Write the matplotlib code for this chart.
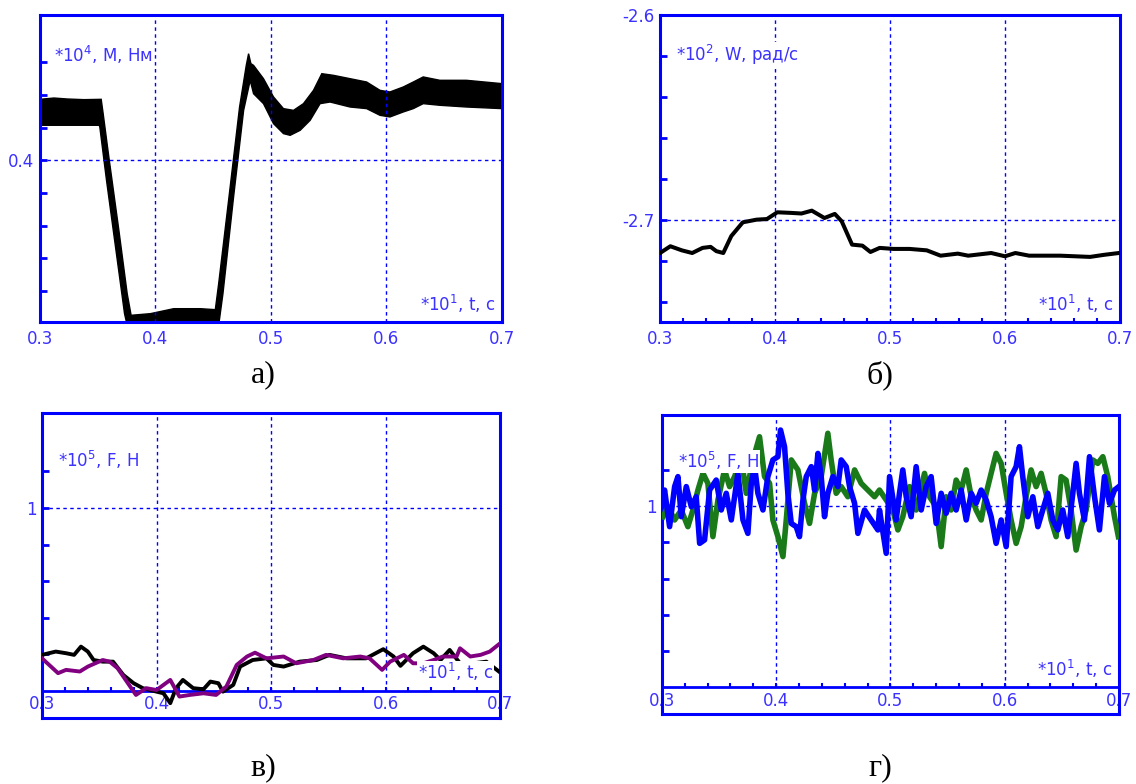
import matplotlib
matplotlib.use('Agg')
import matplotlib.pyplot as plt
import numpy as np

plt.rcParams['axes.unicode_minus'] = False

BLUE = '#0000ff'
TXT = '#3c32ff'

# --- а) torque envelope, *10^4 Nm
m_up_t = [0.3000, 0.3121, 0.3236, 0.3380, 0.3530, 0.3547, 0.3596, 0.3683, 0.3755, 0.3789,
          0.3956, 0.4158, 0.4388, 0.4518, 0.4547, 0.4633, 0.4728, 0.4786, 0.4806, 0.4826,
          0.4849, 0.4935, 0.5022, 0.5108, 0.5195, 0.5281, 0.5368, 0.5440, 0.5540, 0.5684,
          0.5828, 0.5944, 0.6030, 0.6145, 0.6232, 0.6318, 0.6462, 0.6692, 0.7000]
m_up = [0.4747, 0.4763, 0.4751, 0.4743, 0.4747, 0.4571, 0.4041, 0.3143, 0.2367, 0.2102,
        0.2122, 0.2183, 0.2183, 0.2171, 0.2489, 0.3510, 0.4653, 0.5163, 0.5306, 0.5184,
        0.5163, 0.5000, 0.4776, 0.4633, 0.4612, 0.4694, 0.4857, 0.5061, 0.5041, 0.5000,
        0.4959, 0.4857, 0.4837, 0.4898, 0.4959, 0.5021, 0.4980, 0.4980, 0.4939]
m_lo_t = [0.3000, 0.3236, 0.3513, 0.3518, 0.3576, 0.3654, 0.3732, 0.3755, 0.4547, 0.4584,
          0.4676, 0.4763, 0.4820, 0.4849, 0.4935, 0.5022, 0.5108, 0.5166, 0.5252, 0.5339,
          0.5425, 0.5512, 0.5684, 0.5828, 0.5944, 0.6030, 0.6145, 0.6232, 0.6318, 0.6462,
          0.6692, 0.7000]
m_lo = [0.4429, 0.4429, 0.4429, 0.4408, 0.3755, 0.2939, 0.2122, 0.1979, 0.1979, 0.2367,
        0.3551, 0.4612, 0.4980, 0.4816, 0.4694, 0.4449, 0.4327, 0.4306, 0.4367, 0.4490,
        0.4694, 0.4714, 0.4653, 0.4633, 0.4551, 0.4531, 0.4592, 0.4633, 0.4694, 0.4674,
        0.4653, 0.4633]

# --- б) angular speed, *10^2 rad/s
w_t = [0.300, 0.309, 0.319, 0.328, 0.337, 0.344, 0.349, 0.355, 0.362, 0.372, 0.384, 0.393,
       0.402, 0.414, 0.423, 0.432, 0.443, 0.452, 0.458, 0.467, 0.476, 0.483, 0.491, 0.503,
       0.517, 0.532, 0.544, 0.559, 0.568, 0.588, 0.600, 0.609, 0.621, 0.648, 0.674, 0.686, 0.699]
w = [-2.7163, -2.7130, -2.7150, -2.7163, -2.7138, -2.7133, -2.7154, -2.7163, -2.7080, -2.7013,
     -2.7000, -2.6997, -2.6964, -2.6967, -2.6970, -2.6956, -2.6992, -2.6972, -2.7008, -2.7122,
     -2.7127, -2.7158, -2.7138, -2.7143, -2.7143, -2.7150, -2.7176, -2.7166, -2.7176, -2.7163,
     -2.7179, -2.7163, -2.7176, -2.7176, -2.7182, -2.7172, -2.7163]

# --- в) force, *10^5 N
f1_t = [0.300, 0.312, 0.321, 0.328, 0.334, 0.340, 0.345, 0.353, 0.362, 0.371, 0.380, 0.388,
        0.400, 0.406, 0.412, 0.417, 0.423, 0.432, 0.441, 0.447, 0.454, 0.458, 0.467, 0.473,
        0.484, 0.496, 0.502, 0.511, 0.525, 0.540, 0.551, 0.566, 0.583, 0.598, 0.607, 0.613,
        0.624, 0.633, 0.642, 0.648, 0.656, 0.665, 0.677, 0.688, 0.699]
f1 = [0.197, 0.215, 0.206, 0.197, 0.242, 0.215, 0.169, 0.160, 0.160, 0.087, 0.042, 0.015,
      -0.004, -0.013, -0.067, 0.015, 0.060, 0.015, 0.009, 0.051, 0.042, -0.004, 0.033, 0.133,
      0.169, 0.178, 0.142, 0.133, 0.160, 0.169, 0.197, 0.178, 0.178, 0.228, 0.188, 0.137,
      0.206, 0.242, 0.206, 0.169, 0.224, 0.151, 0.151, 0.160, 0.106]
f2_t = [0.300, 0.314, 0.321, 0.333, 0.340, 0.353, 0.359, 0.366, 0.374, 0.382, 0.391, 0.400,
        0.412, 0.420, 0.429, 0.441, 0.452, 0.461, 0.470, 0.479, 0.486, 0.496, 0.511, 0.522,
        0.537, 0.548, 0.563, 0.578, 0.586, 0.597, 0.604, 0.616, 0.624, 0.633, 0.642, 0.650,
        0.662, 0.665, 0.674, 0.683, 0.691, 0.700]
f2 = [0.178, 0.097, 0.115, 0.106, 0.133, 0.169, 0.160, 0.124, 0.051, -0.022, 0.015, 0.005,
      0.060, -0.031, -0.022, -0.013, -0.022, 0.024, 0.142, 0.188, 0.209, 0.178, 0.188, 0.151,
      0.169, 0.197, 0.178, 0.188, 0.178, 0.115, 0.160, 0.197, 0.151, 0.151, 0.169, 0.188,
      0.188, 0.233, 0.188, 0.197, 0.215, 0.260]

# --- г) force, *10^5 N
g_t = [0.3009, 0.3052, 0.3111, 0.3169, 0.3227, 0.3271, 0.3315, 0.3359, 0.3402, 0.3446,
       0.3490, 0.3548, 0.3592, 0.3636, 0.3694, 0.3738, 0.3796, 0.3854, 0.3898, 0.3942,
       0.3971, 0.4015, 0.4059, 0.4088, 0.4132, 0.4190, 0.4248, 0.4292, 0.4336, 0.4394,
       0.4452, 0.4481, 0.4525, 0.4569, 0.4627, 0.4686, 0.4744, 0.4802, 0.4861, 0.4904,
       0.4963, 0.5021, 0.5065, 0.5108, 0.5167, 0.5225, 0.5298, 0.5342, 0.5400, 0.5444,
       0.5488, 0.5531, 0.5575, 0.5619, 0.5663, 0.5707, 0.5750, 0.5794, 0.5838, 0.5881,
       0.5925, 0.5969, 0.6013, 0.6056, 0.6100, 0.6144, 0.6187, 0.6231, 0.6275, 0.6319,
       0.6362, 0.6406, 0.6450, 0.6494, 0.6537, 0.6581, 0.6625, 0.6669, 0.6713, 0.6771,
       0.6815, 0.6859, 0.6902, 0.6961, 0.6995]
g = [0.941, 0.996, 0.923, 0.978, 0.886, 0.978, 1.088, 1.180, 1.125, 0.831,
     1.033, 1.199, 1.107, 1.162, 1.263, 1.070, 1.254, 1.382, 1.162, 1.125,
     0.923, 0.831, 0.721, 0.923, 1.254, 1.199, 1.015, 0.904, 1.070, 1.162,
     1.401, 1.254, 1.070, 1.107, 1.051, 1.199, 1.125, 1.088, 1.051, 1.088,
     1.033, 0.978, 0.868, 0.941, 1.107, 0.978, 1.180, 1.051, 0.996, 0.776,
     1.051, 0.978, 1.143, 1.088, 1.199, 1.051, 0.978, 0.923, 1.070, 1.180,
     1.290, 1.235, 1.070, 0.923, 0.794, 0.886, 1.051, 1.199, 1.107, 1.180,
     1.070, 0.923, 0.831, 1.162, 1.143, 0.978, 0.757, 0.886, 0.978, 1.254,
     1.235, 1.272, 1.162, 0.941, 0.831]
b_t = [0.3009, 0.3023, 0.3067, 0.3111, 0.3140, 0.3169, 0.3213, 0.3257, 0.3300, 0.3330,
       0.3373, 0.3417, 0.3475, 0.3519, 0.3563, 0.3607, 0.3665, 0.3709, 0.3752, 0.3782,
       0.3811, 0.3840, 0.3884, 0.3927, 0.3971, 0.4015, 0.4038, 0.4073, 0.4102, 0.4132,
       0.4175, 0.4204, 0.4234, 0.4263, 0.4307, 0.4336, 0.4365, 0.4394, 0.4423, 0.4452,
       0.4496, 0.4540, 0.4569, 0.4613, 0.4642, 0.4686, 0.4715, 0.4773, 0.4831, 0.4890,
       0.4904, 0.4963, 0.4992, 0.5050, 0.5079, 0.5108, 0.5138, 0.5181, 0.5225, 0.5269,
       0.5313, 0.5356, 0.5400, 0.5444, 0.5488, 0.5531, 0.5575, 0.5619, 0.5663, 0.5707,
       0.5750, 0.5794, 0.5838, 0.5881, 0.5925, 0.5969, 0.6013, 0.6056, 0.6100, 0.6129,
       0.6158, 0.6202, 0.6246, 0.6290, 0.6333, 0.6377, 0.6421, 0.6465, 0.6508, 0.6552,
       0.6596, 0.6625, 0.6654, 0.6698, 0.6742, 0.6786, 0.6829, 0.6873, 0.6917, 0.6961, 0.6999]
b = [1.051, 1.088, 0.886, 1.107, 1.162, 0.941, 1.107, 0.996, 1.051, 0.794,
     0.813, 1.088, 1.143, 0.978, 1.070, 0.923, 1.180, 0.923, 0.849, 1.125,
     1.217, 1.070, 0.978, 1.162, 1.254, 1.272, 1.419, 1.327, 1.070, 0.904,
     0.886, 0.831, 1.033, 1.162, 1.217, 1.088, 1.290, 1.162, 0.941, 1.070,
     1.162, 1.107, 1.254, 1.217, 1.107, 1.015, 0.849, 0.978, 0.923, 0.868,
     0.978, 0.739, 1.162, 0.923, 1.070, 1.199, 1.051, 0.941, 1.217, 0.978,
     1.107, 1.162, 0.904, 1.070, 0.960, 1.070, 0.978, 1.088, 0.923, 1.070,
     1.015, 1.088, 1.033, 0.941, 0.794, 0.923, 0.776, 1.162, 1.217, 1.327,
     1.162, 0.941, 1.051, 0.886, 0.978, 1.070, 0.923, 0.868, 0.978, 0.831,
     1.070, 1.235, 1.070, 0.923, 1.272, 1.051, 0.868, 1.162, 1.015, 1.088, 1.107]

x_ticks = [0.3, 0.4, 0.5, 0.6, 0.7]
x_grid = [0.4, 0.5, 0.6]

FS = 12

fig = plt.figure(figsize=(11.36, 7.84), dpi=100)
ax_a = fig.add_axes([0.0352, 0.5893, 0.4067, 0.3916])
ax_b = fig.add_axes([0.5810, 0.5893, 0.4049, 0.3916])
ax_c = fig.add_axes([0.0370, 0.0842, 0.4032, 0.3890])
ax_d = fig.add_axes([0.5827, 0.0893, 0.4023, 0.3814])

dash = (0, (2.5, 2.5))


def frame(ax):
    ax.set_xlim(0.3, 0.7)
    for s in ax.spines.values():
        s.set_color(BLUE)
        s.set_linewidth(2.2)
    ax.tick_params(axis='y', which='both', direction='in', length=5, width=2,
                   color=BLUE, labelcolor=TXT, labelsize=FS, pad=4)


def label(ax, x, y, s, ha='left'):
    ax.text(x, y, s, transform=ax.transAxes, ha=ha, va='center', color=TXT, fontsize=FS,
            zorder=6, bbox=dict(facecolor='white', edgecolor='none', pad=0.5))


# а)
frame(ax_a)
ax_a.set_ylim(0.202, 0.578)
ax_a.fill(np.r_[m_up_t, m_lo_t[::-1]], np.r_[m_up, m_lo[::-1]], color='black', lw=1)
ax_a.set_yticks([0.4])
ax_a.set_yticks([0.24, 0.28, 0.32, 0.36, 0.44, 0.48, 0.52], minor=True)
ax_a.set_xticks(x_ticks)
ax_a.tick_params(axis='x', length=0, labelcolor=TXT, labelsize=FS, pad=6)
for v in x_grid:
    ax_a.axvline(v, color=BLUE, lw=1, ls=dash, zorder=1)
ax_a.axhline(0.4, color=BLUE, lw=1, ls=dash, zorder=1)
label(ax_a, 0.03, 0.87, '*10$^4$, M, Нм')
label(ax_a, 0.985, 0.06, '*10$^1$, t, c', ha='right')

# б)
frame(ax_b)
ax_b.set_ylim(-2.75, -2.6)
ax_b.plot(w_t, w, color='black', lw=2.9, zorder=3)
ax_b.set_yticks([-2.7, -2.6])
ax_b.set_yticks(np.arange(-2.74, -2.61, 0.02), minor=True)
ax_b.set_xticks(x_ticks)
ax_b.set_xticks(np.arange(0.32, 0.69, 0.02), minor=True)
ax_b.tick_params(axis='x', which='major', length=0, labelcolor=TXT, labelsize=FS, pad=6)
ax_b.tick_params(axis='x', which='minor', direction='in', length=3, width=1.5, color=BLUE)
for v in x_grid:
    ax_b.axvline(v, color=BLUE, lw=1, ls=dash, zorder=1)
ax_b.axhline(-2.7, color=BLUE, lw=1, ls=dash, zorder=1)
label(ax_b, 0.035, 0.87, '*10$^2$, W, рад/с')
label(ax_b, 0.985, 0.06, '*10$^1$, t, c', ha='right')


def strip_panel(ax, ylo, yhi):
    frame(ax)
    ax.set_ylim(ylo, yhi)
    ax.set_xticks([])
    ax.set_yticks([1])
    ax.set_yticks([0.2, 0.4, 0.6, 0.8, 1.2], minor=True)
    ax.axhline(0, color=BLUE, lw=2, zorder=2.6)
    ax.axhline(1, color=BLUE, lw=1, ls=dash, zorder=1)
    ax.vlines(x_grid, 0, yhi, color=BLUE, lw=1, linestyles=dash, zorder=1)
    ax.plot(np.arange(0.32, 0.69, 0.02), np.zeros(19), ls='none', marker=2, ms=3,
            mew=1.5, color=BLUE, zorder=2.6)
    for v in x_ticks:
        ax.text(v, ylo / 2, f'{v:.1f}', ha='center', va='center', color=TXT,
                fontsize=FS, zorder=2)


# в)
strip_panel(ax_c, -0.148, 1.519)
ax_c.plot(f1_t, f1, color='black', lw=2.8, zorder=3)
ax_c.plot(f2_t, f2, color='#800080', lw=2.8, zorder=3.1)
label(ax_c, 0.035, 0.845, '*10$^5$, F, Н')
label(ax_c, 0.985, 0.15, '*10$^1$, t, c', ha='right')

# г)
strip_panel(ax_d, -0.147, 1.502)
ax_d.plot(g_t, g, color='#1a7a1a', lw=4, zorder=3)
ax_d.plot(b_t, b, color=BLUE, lw=4, zorder=3.1)
label(ax_d, 0.035, 0.845, '*10$^5$, F, Н')
label(ax_d, 0.985, 0.15, '*10$^1$, t, c', ha='right')

cap = dict(ha='center', va='center', fontsize=23, family='Liberation Serif')
fig.text(263 / 1136, 1 - 375 / 784, 'а)', **cap)
fig.text(880 / 1136, 1 - 375 / 784, 'б)', **cap)
fig.text(263 / 1136, 1 - 768 / 784, 'в)', **cap)
fig.text(880 / 1136, 1 - 768 / 784, 'г)', **cap)

fig.savefig('out.png', dpi=100)
